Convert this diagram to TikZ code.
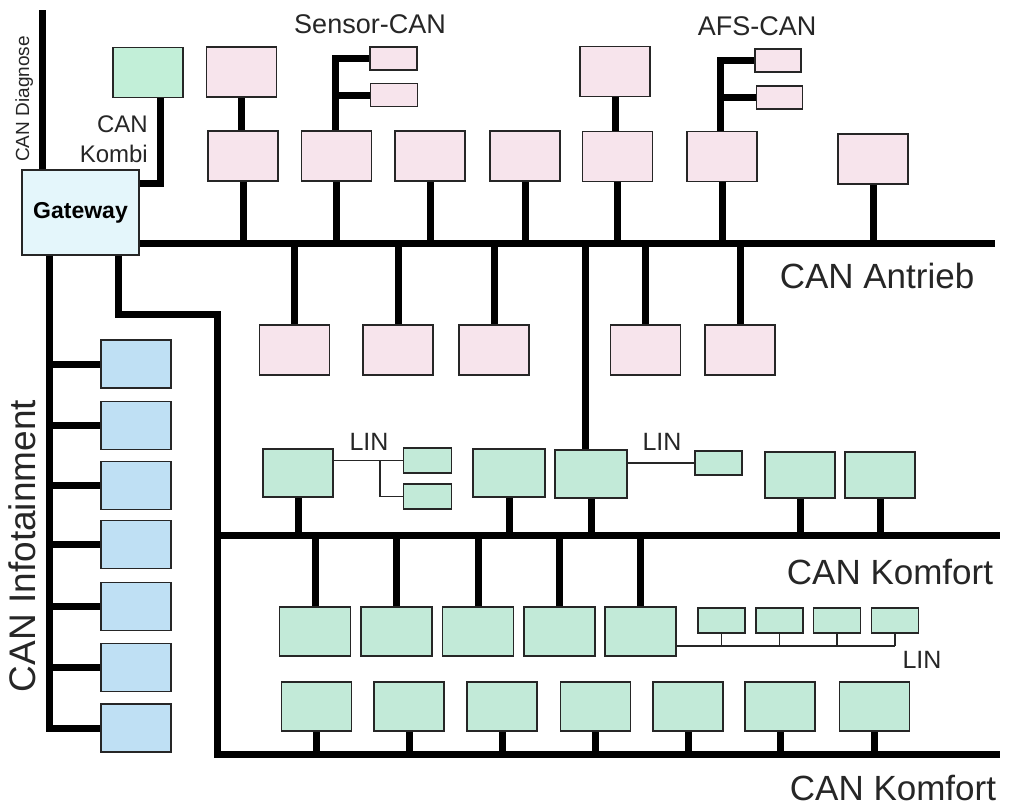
\documentclass[tikz,border=0pt]{standalone}
\usepackage{fontspec}
\setmainfont{Liberation Sans}
\usetikzlibrary{backgrounds}
\definecolor{pinkc}{HTML}{F7E4EC}
\definecolor{greenc}{HTML}{C2EAD8}
\definecolor{kombic}{HTML}{C2EFD8}
\definecolor{bluec}{HTML}{BFE0F4}
\definecolor{gatec}{HTML}{E4F6FB}
\newcommand\fsBig{\fontsize{35}{40}\selectfont}
\newcommand\fsInfo{\fontsize{37}{42}\selectfont}
\newcommand\fsMid{\fontsize{27}{32}\selectfont}
\newcommand\fsLin{\fontsize{25}{30}\selectfont}
\newcommand\fsKombi{\fontsize{24}{30}\selectfont}
\newcommand\fsDiag{\fontsize{19}{22}\selectfont}
\begin{document}
\begin{tikzpicture}[x=1pt,y=-1pt,
 ecu/.style={draw=black!85, line width=1.3pt, inner sep=0pt, outer sep=0pt, minimum width=70pt, minimum height=50pt},
 pinkbox/.style={ecu, fill=pinkc},
 greenbox/.style={ecu, fill=greenc},
 bluebox/.style={ecu, fill=bluec, minimum height=48pt},
 smallpink/.style={pinkbox, minimum width=47pt, minimum height=23pt},
 smallgreen/.style={greenbox, minimum width=48pt, minimum height=25pt},
 bus/.style={line width=7pt, draw=black},
 lin/.style={line width=1.6pt, draw=black!85},
 lbl/.style={inner sep=0pt, anchor=base, text=black!85}
]
\useasboundingbox (0,0) rectangle (1012,807);

% Gateway and Kombi
\node[ecu, fill=gatec, minimum width=117pt, minimum height=85pt, font=\bfseries\fontsize{23}{27}\selectfont] (gw) at (80.5,212.5) {Gateway};
\node[ecu, fill=kombic] (kombi) at (148,72.5) {};

% Pink ECUs (CAN Antrieb)
\node[pinkbox] (pt1) at (241.5,72) {};
\node[pinkbox] (pt2) at (615,71.5) {};
\node[smallpink] (s1) at (393.5,58.5) {};
\node[smallpink] (s2) at (394,95) {};
\node[smallpink, minimum width=46pt] (a1) at (778,60.5) {};
\node[smallpink, minimum width=46pt] (a2) at (779.5,97.5) {};
\node[pinkbox] (p1) at (243,156) {};
\node[pinkbox] (p2) at (336.5,156) {};
\node[pinkbox] (p3) at (430,156) {};
\node[pinkbox] (p4) at (525,156) {};
\node[pinkbox] (p5) at (617.5,156.5) {};
\node[pinkbox] (p6) at (722,156.5) {};
\node[pinkbox] (p7) at (873,159) {};
\node[pinkbox] (b1) at (294.5,350) {};
\node[pinkbox] (b2) at (398,350) {};
\node[pinkbox] (b3) at (494,350) {};
\node[pinkbox] (b4) at (645.5,350) {};
\node[pinkbox] (b5) at (740,350) {};

% Infotainment
\node[bluebox] (i1) at (136,364) {};
\node[bluebox] (i2) at (136,425.5) {};
\node[bluebox] (i3) at (136,485.5) {};
\node[bluebox] (i4) at (136,544.5) {};
\node[bluebox] (i5) at (136,606.5) {};
\node[bluebox] (i6) at (136,667.5) {};
\node[bluebox] (i7) at (136,728) {};

% Komfort row 1
\node[greenbox, minimum height=48pt] (k1) at (298,473) {};
\node[smallgreen] (l1) at (427.5,460.5) {};
\node[smallgreen] (l2) at (427.5,496.5) {};
\node[greenbox, minimum width=72pt, minimum height=48pt] (k2) at (509,473) {};
\node[greenbox, minimum width=72pt, minimum height=48pt] (k3) at (591,474) {};
\node[smallgreen, minimum width=47pt, minimum height=24pt] (l3) at (718.5,463) {};
\node[greenbox, minimum height=46pt] (k4) at (800,475) {};
\node[greenbox, minimum height=46pt] (k5) at (880,475) {};

% Komfort row 2
\node[greenbox, minimum width=71pt, minimum height=49pt] (c1) at (315,631.5) {};
\node[greenbox, minimum width=71pt, minimum height=49pt] (c2) at (396.5,631.5) {};
\node[greenbox, minimum width=71pt, minimum height=49pt] (c3) at (478,631.5) {};
\node[greenbox, minimum width=71pt, minimum height=49pt] (c4) at (559.5,631.5) {};
\node[greenbox, minimum width=71pt, minimum height=49pt] (c5) at (640.5,631.5) {};
\node[smallgreen, minimum width=47pt] (m1) at (721.5,620.5) {};
\node[smallgreen, minimum width=47pt] (m2) at (779.5,620.5) {};
\node[smallgreen, minimum width=47pt] (m3) at (837,620.5) {};
\node[smallgreen, minimum width=47pt] (m4) at (895,620.5) {};

% Komfort row 3
\foreach \n/\x in {d1/316.5,d2/409,d3/502,d4/595.5,d5/688,d6/780,d7/874.5}
  \node[greenbox, minimum height=49pt] (\n) at (\x,706.5) {};

% Bus coordinates
\coordinate (antY) at (0,243);
\coordinate (antR) at (995,243);
\coordinate (kom1Y) at (0,535);
\coordinate (kom1R) at (1000,535);
\coordinate (kom2Y) at (0,754);
\coordinate (kom2R) at (1000,754);
\coordinate (kombiY) at (0,183);
\coordinate (diagTop) at (42,10);
\coordinate (infoTop) at ([xshift=-31pt]gw.south);
\coordinate (kt) at ([xshift=37.5pt]gw.south);
\coordinate (ktCorner) at (217,314);
\coordinate (linY) at (0,646);
\coordinate (lb) at (380,0);

\begin{scope}[on background layer]
  \fill[white] (0,0) rectangle (1012,807);
  % diagnose, kombi
  \draw[bus] (diagTop) -- (diagTop |- gw.north);
  \draw[bus] ([xshift=12pt]kombi.south) |- (gw.east |- kombiY);
  % Antrieb
  \draw[bus] (gw.east |- antY) -- (antR);
  \foreach \n in {p1,p2,p3,p4,p5,p6,p7}
    \draw[bus] (\n.south) -- (\n.south |- antY);
  \foreach \n in {b1,b2,b3,b4,b5}
    \draw[bus] (\n.north) -- (\n.north |- antY);
  \draw[bus] (pt1.south) -- (pt1.south |- p1.north);
  \draw[bus] (pt2.south) -- (pt2.south |- p5.north);
  \draw[bus] ([xshift=-1.5pt]p2.north) |- (s1.west);
  \draw[bus] ([xshift=-1.5pt]p2.north |- s2.west) -- (s2.west);
  \draw[bus] ([xshift=-2pt]p6.north) |- (a1.west);
  \draw[bus] ([xshift=-2pt]p6.north |- a2.west) -- (a2.west);
  \draw[bus] ([xshift=-6pt]k3.north) -- ([xshift=-6pt]k3.north |- antY);
  % Infotainment
  \draw[bus] (infoTop) |- (i7.west);
  \foreach \n in {i1,i2,i3,i4,i5,i6}
    \draw[bus] (\n.west) -- (\n.west -| infoTop);
  % Komfort trunk and buses
  \draw[bus] (kt) |- (ktCorner) -- (ktCorner |- kom2Y) -- (kom2R);
  \draw[bus] (ktCorner |- kom1Y) -- (kom1R);
  \foreach \n in {k1,k2,k3,k4,k5}
    \draw[bus] (\n.south) -- (\n.south |- kom1Y);
  \foreach \n in {c1,c2,c3,c4,c5}
    \draw[bus] (\n.north) -- (\n.north |- kom1Y);
  \foreach \n in {d1,d2,d3,d4,d5,d6,d7}
    \draw[bus] (\n.south) -- (\n.south |- kom2Y);
  % LIN
  \draw[lin] (k1.east |- l1.west) -- (l1.west);
  \draw[lin] (lb |- l1.west) |- (l2.west);
  \draw[lin] (k3.east |- l3.west) -- (l3.west);
  \draw[lin] (c5.east |- linY) -- (m4.south |- linY);
  \foreach \n in {m1,m2,m3,m4}
    \draw[lin] (\n.south) -- (\n.south |- linY);
\end{scope}

% Labels
\node[lbl, font=\fsMid] (tSensor) at (370,33) {Sensor-CAN};
\node[lbl, font=\fsMid] (tAFS) at (757,35) {AFS-CAN};
\node[lbl, font=\fsBig] (tAntrieb) at (877,288) {CAN Antrieb};
\node[lbl, font=\fsBig] (tKomfort1) at (890,584) {CAN Komfort};
\node[lbl, font=\fsBig] (tKomfort2) at (893,800) {CAN Komfort};
\node[lbl, font=\fsInfo, rotate=90] (tInfo) at (35,546) {CAN Infotainment};
\node[lbl, font=\fsDiag, rotate=90] (tDiag) at (29,99) {CAN Diagnose};
\node[lbl, font=\fsKombi, anchor=base east] (tCAN) at (148,132) {CAN};
\node[lbl, font=\fsKombi, anchor=base east] (tKombi) at (148,162) {Kombi};
\node[lbl, font=\fsLin] (tLin1) at (369,450) {LIN};
\node[lbl, font=\fsLin] (tLin2) at (662,450) {LIN};
\node[lbl, font=\fsLin] (tLin3) at (922,668) {LIN};
\end{tikzpicture}
\end{document}
